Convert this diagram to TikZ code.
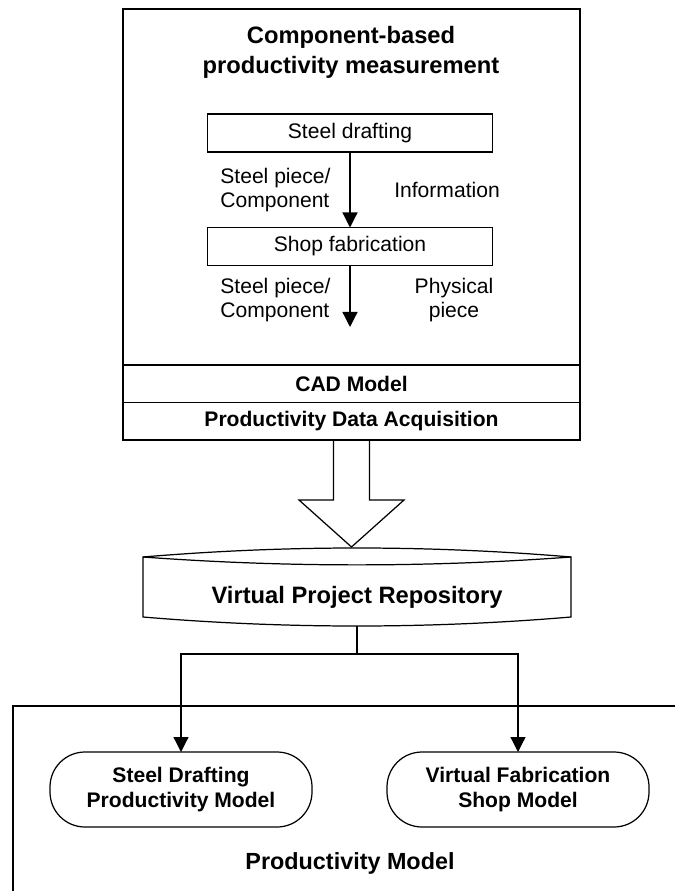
\documentclass[tikz,border=0pt]{standalone}
\usepackage{fontspec}
\setmainfont{Liberation Sans}
\usepackage{tikz}
\usetikzlibrary{positioning, arrows.meta}
\tikzset{
  frame/.style={draw=black, line width=0.7pt, inner sep=0pt, outer sep=0pt},
  rowcell/.style={frame, minimum width=9.14cm, minimum height=0.75cm,
    font=\fontsize{12}{14}\selectfont\bfseries},
  stagecell/.style={frame, minimum width=5.7cm, minimum height=0.76cm,
    font=\fontsize{12}{14}\selectfont},
  flowlabel/.style={font=\fontsize{12}{13.6}\selectfont, inner sep=0pt},
  modelbox/.style={frame, rounded corners=0.7cm, minimum width=5.24cm, minimum height=1.5cm,
    align=center, font=\fontsize{12}{14.7}\selectfont\bfseries},
  flowarrow/.style={-{Triangle[length=0.3cm,width=0.3cm]}, line width=0.7pt},
}

\begin{document}
\begin{tikzpicture}
  \useasboundingbox (0,0) rectangle (13.5,-17.82);
  % measurement block
  \node[frame, minimum width=9.14cm, minimum height=7.12cm] (cbpm) at (7.03,-3.74) {};
  \node[rowcell, below=0pt of cbpm] (cad) {CAD Model};
  \node[rowcell, below=0pt of cad] (pda) {Productivity Data Acquisition};
  \node[align=center, font=\fontsize{13.5}{17}\selectfont\bfseries] (cbtitle) at (7.02,-1.04)
    {Component-based\\productivity measurement};
  \node[stagecell] (draft) at (7.0,-2.66) {Steel drafting};
  \node[stagecell] (shop) at (7.0,-4.93) {Shop fabrication};
  \coordinate (pieceout) at (7.0,-6.54);
  \draw[flowarrow] (draft) -- (shop);
  \draw[flowarrow] (shop) -- (pieceout);
  \node[flowlabel, align=left, anchor=west] (pc1) at (4.4,-3.8) {Steel piece/\\Component};
  \node[flowlabel, align=left, anchor=west] (pc2) at (4.4,-6.0) {Steel piece/\\Component};
  \node[flowlabel] (info) at (8.94,-3.8) {Information};
  \node[flowlabel, align=center] (phys) at (9.08,-6.0) {Physical\\piece};
  % hollow arrow
  \draw[frame] ([xshift=-0.36cm]pda.south) -- ++(0,-1.2) -- ++(-0.69,0) -- ++(1.05,-0.94)
    -- ++(1.05,0.94) -- ++(-0.69,0) -- ([xshift=0.36cm]pda.south);
  % repository
  \draw[frame] (2.86,-11.14) .. controls (5.71,-10.9) and (8.57,-10.9) .. (11.42,-11.14)
    -- (11.42,-12.34) .. controls (8.57,-12.58) and (5.71,-12.58) .. (2.86,-12.34) -- cycle;
  \draw[frame] (2.86,-11.14) .. controls (5.71,-11.35) and (8.57,-11.35) .. (11.42,-11.14);
  \node[font=\fontsize{13.5}{15}\selectfont\bfseries] (repo) at (7.14,-11.94) {Virtual Project Repository};
  \coordinate (repobot) at (7.14,-12.52);
  \coordinate (split) at (7.14,-13.08);
  % productivity model
  \draw[frame] (13.5,-14.12) -- (0.26,-14.12) -- (0.26,-17.82);
  \node[modelbox] (sdpm) at (3.62,-15.79) {Steel Drafting\\Productivity Model};
  \node[modelbox] (vfsm) at (10.36,-15.79) {Virtual Fabrication\\Shop Model};
  \node[font=\fontsize{13.3}{15}\selectfont\bfseries] (pmodel) at (7.0,-17.26) {Productivity Model};
  \draw[line width=0.7pt] (repobot) -- (split);
  \draw[flowarrow] (split) -| (sdpm.north);
  \draw[flowarrow] (split) -| (vfsm.north);
\end{tikzpicture}
\end{document}
